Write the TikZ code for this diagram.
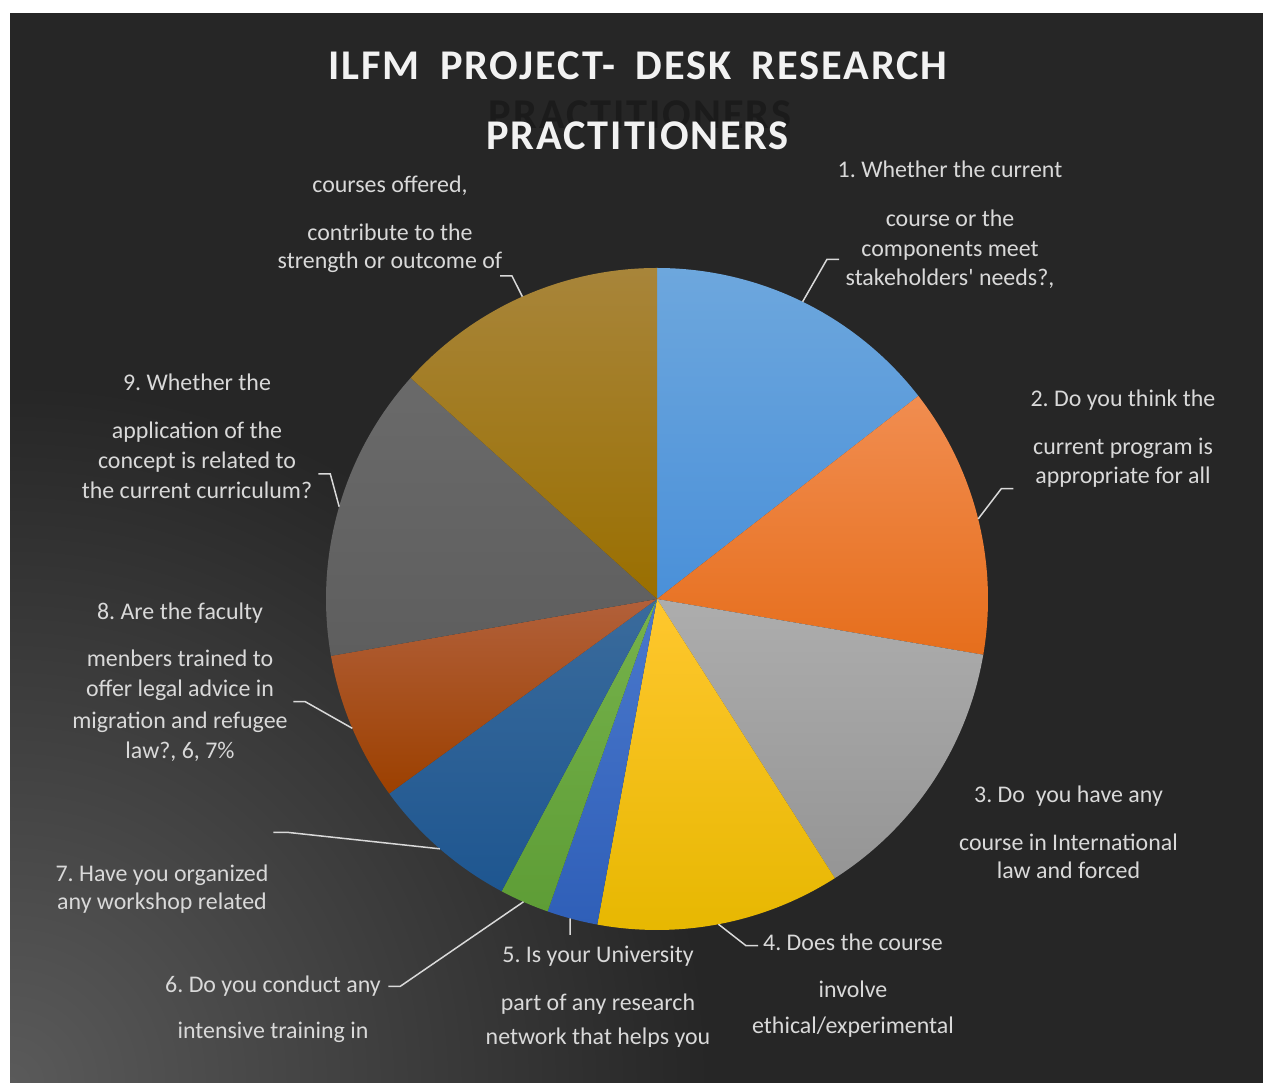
\documentclass[tikz,border=0pt]{standalone}
\usepackage{fontspec}
\setmainfont{Carlito}
\newfontfamily\labelfont{Carlito}
\newfontfamily\titlefont{Carlito}[LetterSpace=4.5]

\definecolor{bgdark}{HTML}{262626}
\definecolor{bgglow}{HTML}{5A5A5A}
\definecolor{labeltext}{HTML}{D9D9D9}
\definecolor{titletext}{HTML}{F2F2F2}
\definecolor{titleghost}{HTML}{1B1B1B}

\begin{document}
\begin{tikzpicture}[x=1bp,y=1bp,
    lbl/.style={text=labeltext, align=center, anchor=base, inner sep=0pt,
      font=\labelfont\fontsize{24}{30}\selectfont},
    leader/.style={draw=labeltext, line width=1.5bp},
    heading/.style={anchor=base, inner sep=0pt,
      font=\titlefont\bfseries\fontsize{42.5}{50}\selectfont}]
  \useasboundingbox (0,0) rectangle (1263,1083);
  \fill[white] (0,0) rectangle (1263,1083);
  \fill[bgdark] (10,0) rectangle (1263,1070);
  \begin{scope}
    \clip (10,0) rectangle (1263,1070);
    \shade[inner color=bgglow, outer color=bgdark] (10,0) circle (700);
  \end{scope}

  % title
  \node (title) [heading, text=titletext] at (638,1003) {ILFM\ \ \kern-2.7bp PROJECT-\ \ \kern-2.7bp DESK\ \ \kern-2.7bp RESEARCH};
  \node (ghost) [heading, text=titleghost] at (640,954.7) {PRACTITIONERS};
  \node (title2) [heading, text=titletext] at (637.3,933.7) {PRACTITIONERS};

  % pie
  \coordinate (ctr) at (657,484);
  \shade[top color={rgb,255:red,109;green,167;blue,221}, bottom color={rgb,255:red,74;green,144;blue,217}]
    (ctr) -- ++(90:331) arc[start angle=90, end angle=37.85, radius=331] -- cycle;
  \shade[top color={rgb,255:red,241;green,141;blue,80}, bottom color={rgb,255:red,230;green,110;blue,28}]
    (ctr) -- ++(37.85:331) arc[start angle=37.85, end angle=-9.7, radius=331] -- cycle;
  \shade[top color={rgb,255:red,173;green,173;blue,173}, bottom color={rgb,255:red,149;green,149;blue,149}]
    (ctr) -- ++(-9.7:331) arc[start angle=-9.7, end angle=-57.5, radius=331] -- cycle;
  \shade[top color={rgb,255:red,255;green,199;blue,46}, bottom color={rgb,255:red,230;green,183;blue,0}]
    (ctr) -- ++(-57.5:331) arc[start angle=-57.5, end angle=-100.4, radius=331] -- cycle;
  \shade[top color={rgb,255:red,74;green,120;blue,204}, bottom color={rgb,255:red,47;green,95;blue,184}]
    (ctr) -- ++(-100.4:331) arc[start angle=-100.4, end angle=-109.3, radius=331] -- cycle;
  \shade[top color={rgb,255:red,118;green,178;blue,75}, bottom color={rgb,255:red,94;green,157;blue,54}]
    (ctr) -- ++(-109.3:331) arc[start angle=-109.3, end angle=-118.0, radius=331] -- cycle;
  \shade[top color={rgb,255:red,58;green,107;blue,156}, bottom color={rgb,255:red,30;green,86;blue,144}]
    (ctr) -- ++(-118.0:331) arc[start angle=-118.0, end angle=-144.0, radius=331] -- cycle;
  \shade[top color={rgb,255:red,178;green,96;blue,58}, bottom color={rgb,255:red,156;green,64;blue,0}]
    (ctr) -- ++(-144.0:331) arc[start angle=-144.0, end angle=-170.1, radius=331] -- cycle;
  \shade[top color={rgb,255:red,106;green,106;blue,106}, bottom color={rgb,255:red,94;green,94;blue,94}]
    (ctr) -- ++(-170.1:331) arc[start angle=-170.1, end angle=-221.9, radius=331] -- cycle;
  \shade[top color={rgb,255:red,168;green,133;blue,58}, bottom color={rgb,255:red,154;green,111;blue,0}]
    (ctr) -- ++(138.1:331) arc[start angle=138.1, end angle=90, radius=331] -- cycle;

  % leader lines
  \path (ctr) ++(63.9:331) coordinate (e1);
  \path (ctr) ++(14.0:331) coordinate (e2);
  \path (ctr) ++(-79.3:331) coordinate (e4);
  \path (ctr) ++(-105.2:331) coordinate (e5);
  \path (ctr) ++(-113.8:331) coordinate (e6);
  \path (ctr) ++(-131.0:331) coordinate (e7);
  \path (ctr) ++(-157.0:331) coordinate (e8);
  \path (ctr) ++(163.8:331) coordinate (e9);
  \path (ctr) ++(114.0:331) coordinate (e10);
  \coordinate (t1) at (839,823.7);
  \coordinate (t2) at (1013.3,594.3);
  \coordinate (t4) at (758,137.3);
  \coordinate (t5) at (570.2,148);
  \coordinate (t6) at (388.3,96.7);
  \coordinate (t7) at (273.3,250.7);
  \coordinate (t8) at (293.3,381.3);
  \coordinate (t9) at (318.3,609);
  \coordinate (t10) at (500,807);
  \draw[leader] (e1) -- ([xshift=-12bp]t1) -- (t1);
  \draw[leader] (e2) -- ([xshift=-12bp]t2) -- (t2);
  \draw[leader] (e4) -- ([xshift=-12bp]t4) -- (t4);
  \draw[leader] (e5) -- (t5);
  \draw[leader] (e6) -- ([xshift=12bp]t6) -- (t6);
  \draw[leader] (e7) -- ([xshift=13.7bp]t7) -- (t7);
  \draw[leader] (e8) -- ([xshift=12bp]t8) -- (t8);
  \draw[leader] (e9) -- ([xshift=12bp]t9) -- (t9);
  \draw[leader] (e10) -- ([xshift=12bp]t10) -- (t10);

  % labels (anchored at the baseline of their last line)
  \begin{scope}
    \clip (10,36.3) rectangle (1263,1070);
    \node (q1) [lbl] at (950,797) {1.~Whether the current\\[19bp] course or the\\ components meet\\ stakeholders' needs?,};
    \node (q2) [lbl] at (1123,599) {2.~Do you think the\\[18bp] current program is\\ appropriate for all};
    \node (q3) [lbl] at (1068.5,204.7) {3.~Do\ \ you have any\\[18bp] course in International\\[-2bp] law and forced};
    \node (q4) [lbl] at (853,49) {4.~Does the course\\[17bp] involve\\[7bp] ethical/experimental};
    \node (q5) [lbl] at (598,38) {5.~Is your University\\[18bp] part of any research\\[5bp] network that helps you};
    \node (q6) [lbl] at (273,44.7) {6.~Do you conduct any\\[15.6bp] intensive training in};
    \node (q7) [lbl] at (162,173.7) {7.~Have you organized\\[-2.4bp] any workshop related};
    \node (q8) [lbl] at (180,324.7) {8.~Are the faculty\\[17bp] menbers trained to\\ offer legal advice in\\[2bp] migration and refugee\\ law?, 6, 7\%};
    \node (q9) [lbl] at (197,584.7) {9.~Whether the\\[18bp] application of the\\ concept is related to\\ the current curriculum?};
    \node (q10) [lbl] at (390,814.7) {courses offered,\\[18bp] contribute to the\\[-2bp] strength or outcome of};
  \end{scope}
\end{tikzpicture}
\end{document}
